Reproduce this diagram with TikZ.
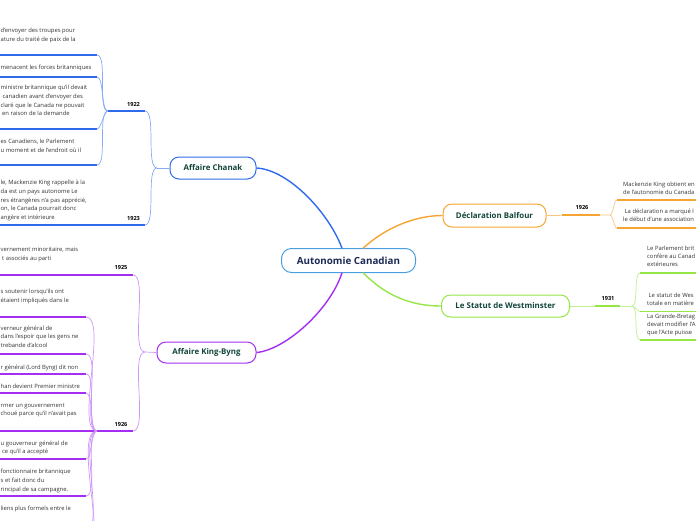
\documentclass[tikz,border=0pt]{standalone}
\usepackage{fontspec}
\setmainfont{Open Sans}
\definecolor{rootc}{HTML}{4A9FE0}
\definecolor{roottxt}{HTML}{1B2A55}
\definecolor{topictxt}{HTML}{12463A}
\definecolor{bluec}{HTML}{2F6BEB}
\definecolor{bluel}{HTML}{86ABF7}
\definecolor{purc}{HTML}{A42EF2}
\definecolor{purl}{HTML}{CF96F9}
\definecolor{orc}{HTML}{F6A534}
\definecolor{orl}{HTML}{F9C480}
\definecolor{grc}{HTML}{96E646}
\definecolor{grl}{HTML}{C0F090}
\definecolor{leaftxt}{HTML}{333333}
\begin{document}
\begin{tikzpicture}[x=1pt,y=-1pt,
 root/.style={draw=rootc,line width=1pt,rounded corners=10pt,minimum width=134pt,minimum height=24pt,inner sep=0pt,font=\bfseries\fontsize{9.8}{11}\selectfont,text=roottxt,fill=white},
 topic/.style={line width=1pt,rounded corners=9pt,inner sep=0pt,fill=white,font=\bfseries\fontsize{7.9}{9}\selectfont,text=topictxt,minimum height=22pt},
 leaf/.style={anchor=north west,inner sep=0pt,align=left,text=leaftxt,font=\fontsize{5.85}{8.8}\selectfont,execute at begin node=\rule{0pt}{5pt}},
 rleaf/.style={leaf,font=\fontsize{5.85}{8}\selectfont},
 yr/.style={inner sep=0pt,font=\bfseries\fontsize{5.6}{6}\selectfont,text=black},
 mainline/.style={line width=1.4pt},
 uline/.style={line width=1.4pt},
 twig/.style={line width=0.7pt},
 lb/.style={out=180,in=0,looseness=0.5},
 rb/.style={out=0,in=180,looseness=0.5}]
\useasboundingbox (0,0) rectangle (696,520);
\clip (0,0) rectangle (696,520);

% ---------- main nodes ----------
\node[root] (root) at (348.5,260.5) {Autonomie Canadian};
\node[topic,draw=bluec,minimum width=86pt] (chanak) at (213,168) {Affaire Chanak};
\node[topic,draw=purc,minimum width=99pt,minimum height=21pt] (kb) at (206.5,352.5) {Affaire King-Byng};
\node[topic,draw=orc,minimum width=103pt,minimum height=23pt] (bal) at (494.5,215.5) {Déclaration Balfour};
\node[topic,draw=grc,minimum width=128pt] (west) at (505.5,306) {Le Statut de Westminster};

\coordinate (rtl) at (342,248.3);
\coordinate (rtr) at (363,248.3);
\coordinate (rbl) at (342,272.7);
\coordinate (rbr) at (363,272.7);
\draw[mainline,bluec] (chanak.east) .. controls (290,170) and (330,215) .. (rtl);
\draw[mainline,purc] (kb.east) .. controls (285,350) and (330,310) .. (rbl);
\draw[mainline,orc] (rtr) .. controls (385,228) and (415,215.5) .. (bal.west);
\draw[mainline,grc] (rbr) .. controls (385,295) and (410,306) .. (west.west);

% ---------- Affaire Chanak ----------
\coordinate (ch) at (157,168);
\coordinate (y22) at (145,111); \coordinate (y22f) at (108,111);
\coordinate (y23) at (145,225); \coordinate (y23e) at (0,225);
\draw[twig,bluel] (chanak.west) -- (ch);
\draw[twig,bluel] (ch) to[lb] (y22);
\draw[twig,bluel] (ch) to[lb] (y23);
\draw[uline,bluec] (y22) -- (y22f);
\draw[uline,bluec] (y23) -- (y23e);
\node[yr] (l22) at (133.5,104) {1922};
\node[yr] (l23) at (133.5,218) {1923};
\foreach \n/\y in {a/55,b/77,c/129,d/165}{
  \coordinate (cu\n) at (97,\y); \coordinate (cs\n) at (0,\y);
  \draw[twig,bluel] (y22f) to[lb] (cu\n);
  \draw[uline,bluec] (cu\n) -- (cs\n);
}
\node[leaf] (t1) at (0.5,28.1) {d'envoyer des troupes pour\\ature du traité de paix de la};
\node[leaf] (t2) at (0.5,64.1) {menacent les forces britanniques};
\node[leaf] (t3) at (0.5,84.8) {ministre britannique qu'il devait\\\hspace*{2pt}canadien avant d'envoyer des\\claré que le Canada ne pouvait\\\hspace*{1.5pt}en raison de la demande};
\node[leaf] (t4) at (0.5,138.8) {es Canadiens, le Parlement\\u moment et de l'endroit où il};
\node[leaf] (t5) at (0.5,179.8) {le, Mackenzie King rappelle à la\\da est un pays autonome Le\\res étrangères n'a pas apprécié,\\on, le Canada pourrait donc\\angère et intérieure};

% ---------- Affaire King-Byng ----------
\coordinate (kf) at (145,352);
\coordinate (y25) at (133,275); \coordinate (y25e) at (0,275);
\coordinate (y26) at (133,431); \coordinate (y26f) at (97,431); \coordinate (y26e) at (0,431);
\draw[twig,purl] (kb.west) -- (kf);
\draw[twig,purl] (kf) to[lb] (y25);
\draw[twig,purl] (kf) to[lb] (y26);
\draw[uline,purc] (y25) -- (y25e);
\draw[uline,purc] (y26) -- (y26e);
\node[yr] (l25) at (121,267) {1925};
\node[yr] (l26) at (121,424) {1926};
\foreach \n/\y in {a/317,b/354,c/374,d/393,e/459,f/496,g/530,h/560}{
  \coordinate (ku\n) at (86,\y); \coordinate (ks\n) at (0,\y);
  \draw[twig,purl] (y26f) to[lb] (ku\n);
  \draw[uline,purc] (ku\n) -- (ks\n);
}
\node[leaf] (k1) at (0.5,247.1) {vernement minoritaire, mais\\\hspace*{1.5pt}t associés au parti};
\node[leaf] (k2) at (0.5,288.8) {s soutenir lorsqu'ils ont\\étaient impliqués dans le};
\node[leaf] (k3) at (0.5,325.5) {verneur général de\\dans l'espoir que les gens ne\\trebande d'alcool};
\node[leaf] (k4) at (0.5,363.8) {r général (Lord Byng) dit non};
\node[leaf] (k5) at (0.5,383.1) {han devient Premier ministre};
\node[leaf] (k6) at (0.5,403.1) {rmer un gouvernement\\choué parce qu'il n'avait pas};
\node[leaf] (k7) at (0.5,440.5) {u gouverneur général de\\\hspace*{1.5pt}ce qu'il a accepté};
\node[leaf] (k8) at (0.5,468.8) {fonctionnaire britannique\\s et fait donc du\\rincipal de sa campagne.};
\node[leaf] (k9) at (0.5,505.5) {liens plus formels entre le};

% ---------- Déclaration Balfour ----------
\coordinate (bf) at (610,215);
\coordinate (b1) at (562,215); \coordinate (b2) at (600,215);
\draw[twig,orl] (bal.east) -- (bf);
\draw[uline,orc] (b1) -- (b2);
\node[yr] (l26b) at (582,207) {1926};
\foreach \n/\y in {a/200,b/228}{
  \coordinate (bu\n) at (617,\y); \coordinate (bs\n) at (700,\y);
  \draw[twig,orl] (bf) to[rb] (bu\n);
  \draw[uline,orc] (bu\n) -- (bs\n);
}
\node[rleaf] (r1) at (623,181.5) {Mackenzie King obtient en\\de l'autonomie du Canada};
\node[rleaf] (r2) at (623,209) {\hspace*{1.5pt}La déclaration a marqué l\\le début d'une association};

% ---------- Le Statut de Westminster ----------
\coordinate (wf) at (632,306);
\coordinate (w1) at (595,306); \coordinate (w2) at (620,306);
\draw[twig,grl] (west.east) -- (wf);
\draw[uline,grc] (w1) -- (w2);
\node[yr] (l31) at (608,298.3) {1931};
\foreach \n/\y in {a/273,b/311.5,c/340}{
  \coordinate (wu\n) at (640,\y); \coordinate (ws\n) at (700,\y);
  \draw[twig,grl] (wf) to[rb] (wu\n);
  \draw[uline,grc] (wu\n) -- (ws\n);
}
\node[rleaf] (s1) at (647,245.5) {Le Parlement brit\\confère au Canad\\extérieures};
\node[rleaf] (s2) at (647,292.5) {\hspace*{1.5pt}Le statut de Wes\\totale en matière};
\node[rleaf] (s3) at (647,313.5) {La Grande-Bretag\\devait modifier l'A\\que l'Acte puisse};
\end{tikzpicture}
\end{document}
